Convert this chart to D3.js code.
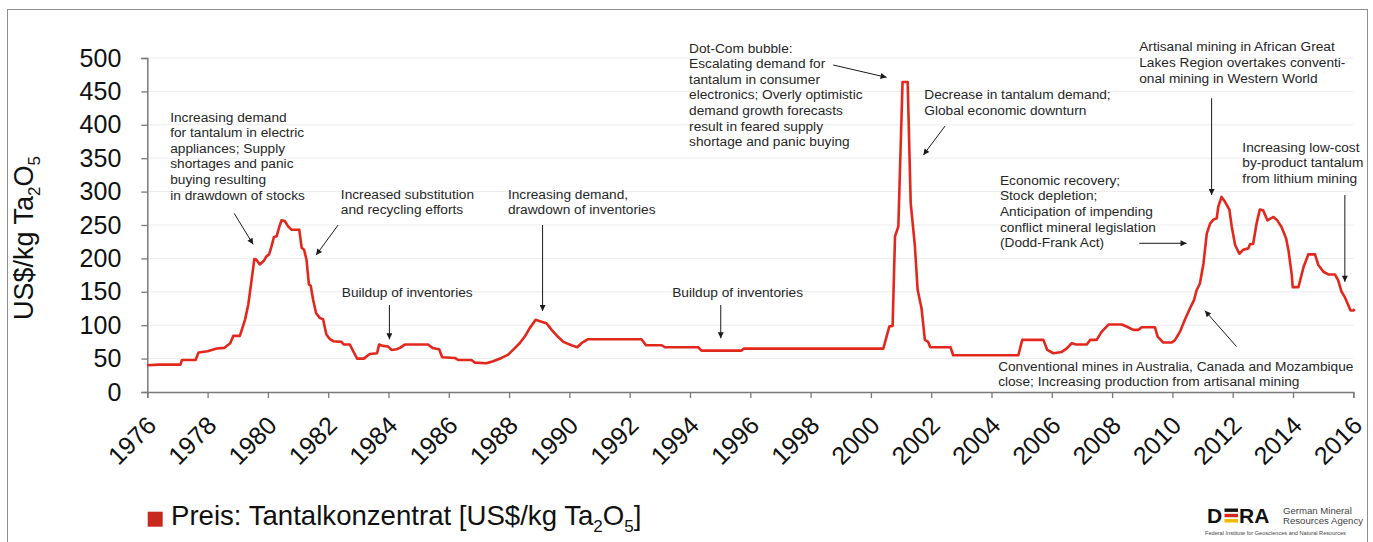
<!DOCTYPE html>
<html>
<head>
<meta charset="utf-8">
<script src="https://cdn.jsdelivr.net/npm/d3@7"></script>
<style>
  body { margin: 0; background: #fff; }
  svg { display: block; font-family: Arial, "Liberation Sans", sans-serif; }
</style>
</head>
<body>
<svg id="chart" width="1373" height="542"></svg>
<script>
// price of tantalum concentrate (decimal years)
var years = [
  1976.0, 1976.4, 1977.1, 1977.15, 1977.6, 1977.7, 1978.0, 1978.3, 1978.55, 1978.75,
  1978.85, 1979.07, 1979.24, 1979.35, 1979.46, 1979.55, 1979.62, 1979.73, 1979.86, 1979.95,
  1980.04, 1980.12, 1980.2, 1980.29, 1980.37, 1980.45, 1980.56, 1980.67, 1980.78, 1981.04,
  1981.12, 1981.2, 1981.28, 1981.36, 1981.42, 1981.5, 1981.6, 1981.72, 1981.83, 1981.94,
  1982.06, 1982.17, 1982.44, 1982.52, 1982.72, 1982.83, 1982.96, 1983.18, 1983.38, 1983.62,
  1983.69, 1983.82, 1983.99, 1984.1, 1984.27, 1984.38, 1984.54, 1984.71, 1985.31, 1985.46,
  1985.68, 1985.78, 1986.2, 1986.31, 1986.75, 1986.86, 1987.25, 1987.47, 1987.75, 1987.97,
  1988.13, 1988.35, 1988.52, 1988.69, 1988.88, 1989.02, 1989.24, 1989.41, 1989.57, 1989.8,
  1990.07, 1990.26, 1990.4, 1990.62, 1992.39, 1992.54, 1993.06, 1993.17, 1994.27, 1994.38,
  1995.71, 1995.79, 2000.41, 2000.52, 2000.61, 2000.72, 2000.8, 2000.91, 2001.05, 2001.22,
  2001.32, 2001.46, 2001.55, 2001.68, 2001.79, 2001.9, 2001.97, 2002.64, 2002.73, 2004.89,
  2005.02, 2005.72, 2005.85, 2006.05, 2006.33, 2006.49, 2006.66, 2006.82, 2007.16, 2007.27,
  2007.49, 2007.65, 2007.88, 2008.32, 2008.48, 2008.7, 2008.87, 2008.98, 2009.42, 2009.51,
  2009.7, 2009.98, 2010.09, 2010.25, 2010.42, 2010.58, 2010.72, 2010.8, 2010.91, 2011.03,
  2011.14, 2011.25, 2011.36, 2011.47, 2011.52, 2011.63, 2011.74, 2011.89, 2011.97, 2012.08,
  2012.22, 2012.35, 2012.52, 2012.57, 2012.68, 2012.79, 2012.9, 2013.01, 2013.15, 2013.35,
  2013.46, 2013.62, 2013.77, 2013.85, 2013.96, 2013.99, 2014.18, 2014.35, 2014.51, 2014.73,
  2014.84, 2015.01, 2015.17, 2015.39, 2015.5, 2015.61, 2015.72, 2015.91, 2016.0, 2016.05
];
var prices = [
  40, 41, 41, 48, 48, 59, 61, 65, 66, 73,
  84, 84, 108, 131, 168, 199, 198, 191, 196, 203,
  206, 218, 232, 233, 246, 257, 256, 248, 243, 243,
  216, 213, 198, 161, 159, 138, 118, 111, 109, 86,
  79, 76, 75, 71, 71, 61, 50, 50, 57, 58,
  71, 69, 68, 63, 64, 66, 71, 71, 71, 66,
  64, 52, 51, 48, 48, 44, 43, 46, 51, 56,
  63, 73, 83, 96, 108, 106, 103, 93, 85, 75,
  70, 67, 73, 79, 79, 70, 70, 67, 67, 62,
  62, 65, 65, 83, 98, 99, 233, 248, 464, 464,
  283, 218, 153, 125, 78, 75, 67, 67, 55, 55,
  78, 78, 63, 58, 60, 65, 73, 71, 71, 78,
  78, 90, 101, 101, 98, 93, 93, 97, 97, 83,
  74, 74, 78, 90, 109, 125, 138, 152, 162, 192,
  237, 252, 258, 260, 277, 292, 285, 273, 247, 220,
  207, 213, 215, 221, 222, 252, 273, 272, 257, 262,
  258, 247, 230, 212, 175, 157, 157, 187, 206, 206,
  190, 180, 176, 176, 167, 150, 142, 122, 122, 124
];

var yTicks = [0, 50, 100, 150, 200, 250, 300, 350, 400, 450, 500];
var xTicks = d3.range(1976, 2017, 2);

var legendLabel = "Preis: Tantalkonzentrat [US$/kg Ta";

// annotations: text block anchored at (year, value), arrow from -> to in data units
var notes = [
  { lines: ["Increasing demand", "for tantalum in electric", "appliances; Supply",
            "shortages and panic", "buying resulting", "in drawdown of stocks"],
    at: [1976.76, 412], arrow: [1978.88, 267.5, 1979.51, 221] },
  { lines: ["Increased substitution", "and recycling efforts"],
    at: [1982.42, 296.4], arrow: [1982.33, 250, 1981.6, 205] },
  { lines: ["Buildup of inventories"],
    at: [1982.45, 148.7], arrow: [1984.03, 130.2, 1984.03, 78.9] },
  { lines: ["Increasing demand,", "drawdown of inventories"],
    at: [1987.96, 296.4], arrow: [1989.11, 250, 1989.11, 121.3] },
  { lines: ["Buildup of inventories"],
    at: [1993.41, 149.3], arrow: [1995.02, 130.2, 1995.02, 80.4] },
  { lines: ["Dot-Com bubble:", "Escalating demand for", "tantalum in consumer",
            "electronics; Overly optimistic", "demand growth forecasts",
            "result in feared supply", "shortage and panic buying"],
    at: [1993.97, 515.4], arrow: [1998.75, 489.5, 2000.52, 471] },
  { lines: ["Decrease in tantalum demand;", "Global economic downturn"],
    at: [2001.77, 445.7], arrow: [2002.46, 398.2, 2001.74, 354.8] },
  { lines: ["Artisanal mining in African Great", "Lakes Region overtakes conventi-",
            "onal mining in Western World"],
    at: [2008.9, 517], arrow: [2011.3, 439.7, 2011.3, 295] },
  { lines: ["Increasing low-cost", "by-product tantalum", "from lithium mining"],
    at: [2012.32, 367.2], arrow: [2015.72, 295, 2015.72, 165] },
  { lines: ["Economic recovery;", "Stock depletion;", "Anticipation of impending",
            "conflict mineral legislation", "(Dodd-Frank Act)"],
    at: [2004.28, 317.4], arrow: [2008.9, 222.6, 2010.47, 222.6] },
  { lines: ["Conventional mines in Australia, Canada and Mozambique",
            "close; Increasing production from artisanal mining"],
    at: [2004.22, 38.9], arrow: [2012.13, 67.8, 2011.08, 121.7] }
];

var svg = d3.select("#chart");

var x = d3.scaleLinear().domain([1976, 2016]).range([147.3, 1353.3]);
var y = d3.scaleLinear().domain([0, 500]).range([392, 58]);

// outer frame
svg.append("rect")
    .attr("x", 7.5).attr("y", 9.5)
    .attr("width", 1360).attr("height", 600)
    .attr("fill", "none")
    .attr("stroke", "#8e8e8e");

// arrow head
svg.append("defs").append("marker")
    .attr("id", "arr")
    .attr("viewBox", "0 0 10 10")
    .attr("refX", 10).attr("refY", 5)
    .attr("markerWidth", 9).attr("markerHeight", 6)
    .attr("markerUnits", "userSpaceOnUse")
    .attr("orient", "auto")
    .append("path")
    .attr("d", "M0,0 L10,5 L0,10 z")
    .attr("fill", "#1a1a1a");

// horizontal grid
svg.append("g")
    .selectAll("line")
    .data(yTicks.slice(1))
    .join("line")
    .attr("x1", x(1976)).attr("x2", x(2016))
    .attr("y1", function(d) { return y(d); })
    .attr("y2", function(d) { return y(d); })
    .attr("stroke", "#ececec");

// y axis
var yAxis = svg.append("g")
    .attr("transform", "translate(" + x(1976) + ",0)")
    .call(d3.axisLeft(y).tickValues(yTicks).tickSize(6).tickPadding(20));
yAxis.select(".domain").attr("stroke", "#7a7a7a").attr("stroke-width", 1.5);
yAxis.selectAll(".tick line").attr("stroke", "#7a7a7a").attr("stroke-width", 1.3);
yAxis.selectAll(".tick text")
    .attr("font-size", 25)
    .attr("font-family", "Arial, 'Liberation Sans', sans-serif")
    .attr("fill", "#111");

// x axis
var xAxis = svg.append("g")
    .attr("transform", "translate(0," + y(0) + ")")
    .call(d3.axisBottom(x).tickValues(xTicks).tickSize(6).tickFormat(d3.format("d")));
xAxis.select(".domain").attr("stroke", "#7a7a7a").attr("stroke-width", 1.5);
xAxis.selectAll(".tick line").attr("stroke", "#7a7a7a").attr("stroke-width", 1.3);
xAxis.selectAll(".tick text")
    .attr("x", 0).attr("y", 0).attr("dy", 0)
    .attr("text-anchor", "end")
    .attr("transform", "translate(10,35) rotate(-45)")
    .attr("font-size", 25)
    .attr("font-family", "Arial, 'Liberation Sans', sans-serif")
    .attr("fill", "#111");

// y axis title
var yTitle = svg.append("text")
    .attr("transform", "translate(33," + 238 + ") rotate(-90)")
    .attr("text-anchor", "middle")
    .attr("font-size", 27)
    .attr("fill", "#111");
yTitle.append("tspan").text("US$/kg Ta");
yTitle.append("tspan").attr("font-size", 17).attr("dy", 7).text("2");
yTitle.append("tspan").attr("dy", -7).text("O");
yTitle.append("tspan").attr("font-size", 17).attr("dy", 7).text("5");

// price line
var line = d3.line()
    .x(function(d, i) { return x(years[i]); })
    .y(function(d) { return y(d); });

svg.append("path")
    .datum(prices)
    .attr("d", line)
    .attr("fill", "none")
    .attr("stroke", "#e2281d")
    .attr("stroke-width", 2.6)
    .attr("stroke-linejoin", "round");

// annotations
var noteG = svg.append("g").attr("font-size", 13.7).attr("fill", "#262626");
notes.forEach(function(n) {
    var t = noteG.append("text")
        .attr("x", x(n.at[0]))
        .attr("y", y(n.at[1]));
    n.lines.forEach(function(s, i) {
        t.append("tspan")
            .attr("x", x(n.at[0]))
            .attr("dy", i == 0 ? "0.35em" : 15.6)
            .text(s);
    });
    noteG.append("line")
        .attr("x1", x(n.arrow[0])).attr("y1", y(n.arrow[1]))
        .attr("x2", x(n.arrow[2])).attr("y2", y(n.arrow[3]))
        .attr("stroke", "#1a1a1a")
        .attr("stroke-width", 1)
        .attr("marker-end", "url(#arr)");
});

// legend
svg.append("rect")
    .attr("x", 147.7).attr("y", 511.7)
    .attr("width", 15).attr("height", 15)
    .attr("fill", "#c8291d");
var leg = svg.append("text")
    .attr("x", 171).attr("y", 525)
    .attr("font-size", 27.6)
    .attr("fill", "#111");
leg.append("tspan").text(legendLabel);
leg.append("tspan").attr("font-size", 17).attr("dy", 7).text("2");
leg.append("tspan").attr("dy", -7).text("O");
leg.append("tspan").attr("font-size", 17).attr("dy", 7).text("5");
leg.append("tspan").attr("dy", -7).text("]");

// DERA logo
var logo = svg.append("g");
logo.append("text")
    .attr("x", 1207).attr("y", 522.5)
    .attr("font-size", 21).attr("font-weight", "bold")
    .attr("fill", "#111")
    .text("D");
[["#111", 508.5], ["#d8261c", 513.8], ["#f1b800", 519.1]].forEach(function(b) {
    logo.append("rect")
        .attr("x", 1224.5).attr("y", b[1])
        .attr("width", 13.5).attr("height", 3.4)
        .attr("fill", b[0]);
});
logo.append("text")
    .attr("x", 1239).attr("y", 522.5)
    .attr("font-size", 21).attr("font-weight", "bold")
    .attr("fill", "#111")
    .text("RA");
logo.append("text")
    .attr("x", 1283).attr("y", 513.5)
    .attr("font-size", 9.6).attr("fill", "#444")
    .text("German Mineral");
logo.append("text")
    .attr("x", 1283).attr("y", 523.5)
    .attr("font-size", 9.6).attr("fill", "#444")
    .text("Resources Agency");
logo.append("text")
    .attr("x", 1205).attr("y", 534.5)
    .attr("font-size", 5.6).attr("fill", "#444")
    .text("Federal Institute for Geosciences and Natural Resources");
</script>
</body>
</html>
